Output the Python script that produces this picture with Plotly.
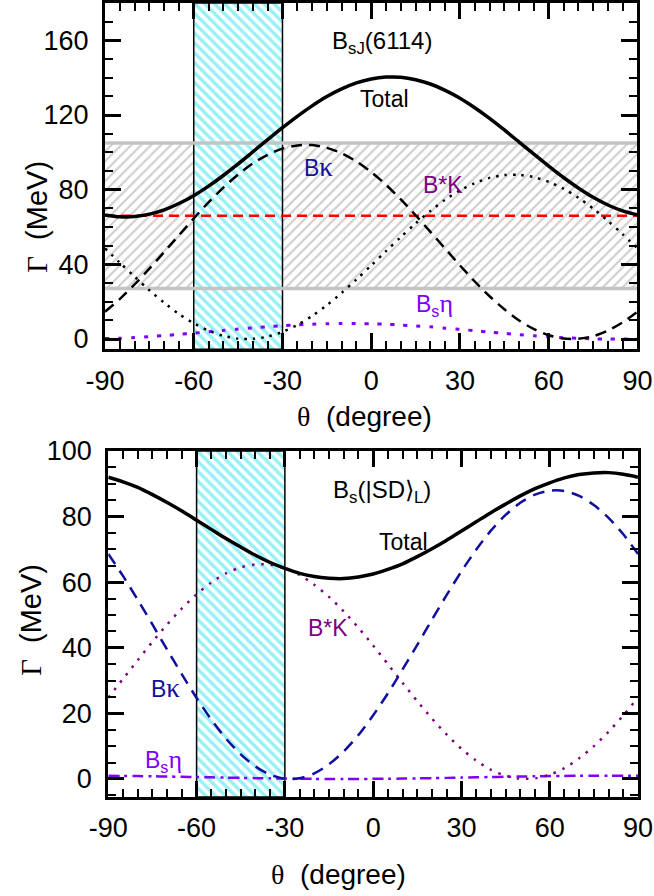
import plotly.graph_objects as go

# ---------------- data ----------------
theta = [-90, -85, -80, -75, -70, -65, -60, -55, -50, -45, -40, -35, -30, -25, -20, -15, -10, -5,
         0, 5, 10, 15, 20, 25, 30, 35, 40, 45, 50, 55, 60, 65, 70, 75, 80, 85, 90]

# upper panel: B_sJ(6114)
top_total = [66.5, 65.5, 65.6, 66.9, 69.2, 72.6, 76.8, 81.9, 87.6, 93.8, 100.3, 106.8, 113.2, 119.3,
             124.9, 129.9, 134.0, 137.2, 139.3, 140.3, 140.2, 138.9, 136.6, 133.2, 129.0, 123.9,
             118.2, 112.0, 105.5, 99.0, 92.6, 86.5, 80.9, 75.9, 71.8, 68.6, 66.5]
top_bk = [14.6, 21.4, 29.2, 37.7, 46.6, 55.6, 64.6, 73.2, 81.1, 88.1, 94.1, 98.7, 102.0, 103.7,
          103.9, 102.4, 99.5, 95.1, 89.4, 82.6, 74.8, 66.3, 57.4, 48.4, 39.4, 30.8, 22.9, 15.9,
          9.9, 5.3, 2.0, 0.3, 0.1, 1.5, 4.5, 8.9, 14.6]
top_bstark = [48.6, 40.9, 33.4, 26.1, 19.4, 13.4, 8.4, 4.5, 1.7, 0.2, 0.1, 1.3, 3.8, 7.5, 12.3,
              18.1, 24.7, 31.9, 39.4, 47.1, 54.6, 61.9, 68.6, 74.6, 79.6, 83.5, 86.3, 87.8, 87.9,
              86.7, 84.2, 80.5, 75.7, 69.9, 63.3, 56.1, 48.6]
top_bseta = [0.2, 0.4, 0.8, 1.3, 1.8, 2.5, 3.1, 3.9, 4.6, 5.3, 6.0, 6.6, 7.1, 7.6, 7.9, 8.2, 8.3,
             8.3, 8.1, 7.9, 7.5, 7.0, 6.5, 5.8, 5.2, 4.4, 3.7, 3.0, 2.3, 1.7, 1.2, 0.7, 0.4, 0.1,
             0.0, 0.0, 0.2]
top_exp_width = 66.0          # red dashed line
top_exp_low = 27.0            # grey hatched band
top_exp_high = 105.0

# lower panel: B_s(|SD>_L)
bot_total = [92.0, 90.6, 88.9, 86.7, 84.3, 81.7, 78.9, 76.1, 73.3, 70.7, 68.2, 66.0, 64.2, 62.7,
             61.7, 61.2, 61.1, 61.6, 62.5, 63.9, 65.6, 67.8, 70.2, 72.8, 75.6, 78.4, 81.2, 83.8,
             86.3, 88.5, 90.3, 91.8, 92.8, 93.3, 93.4, 92.9, 92.0]
bot_bk = [68.6, 61.9, 54.6, 47.1, 39.4, 31.9, 24.7, 18.1, 12.3, 7.5, 3.8, 1.3, 0.1, 0.2, 1.7, 4.5,
          8.4, 13.4, 19.4, 26.1, 33.4, 40.9, 48.6, 56.1, 63.3, 69.9, 75.7, 80.5, 84.2, 86.7, 87.9,
          87.8, 86.3, 83.5, 79.6, 74.6, 68.6]
bot_bstark = [24.8, 30.5, 36.2, 41.8, 47.1, 52.0, 56.3, 59.9, 62.7, 64.5, 65.4, 65.3, 64.2, 62.2,
              59.2, 55.5, 51.1, 46.1, 40.7, 35.0, 29.3, 23.7, 18.4, 13.5, 9.2, 5.6, 2.8, 1.0, 0.1,
              0.2, 1.3, 3.3, 6.3, 10.0, 14.4, 19.4, 24.8]
bot_bseta = [0.97, 0.93, 0.88, 0.82, 0.75, 0.67, 0.59, 0.50, 0.41, 0.33, 0.25, 0.18, 0.12, 0.07,
             0.03, 0.01, 0.0, 0.01, 0.03, 0.07, 0.12, 0.18, 0.25, 0.33, 0.41, 0.50, 0.59, 0.67,
             0.75, 0.82, 0.88, 0.93, 0.97, 0.99, 1.0, 0.99, 0.97]

# mixing-angle band (cyan)
mix_low = -60
mix_high = -30

x_range = [-90, 90]
top_y_range = [-5.5, 180]
bot_y_range = [-5.5, 100]
x_ticks = [-90, -60, -30, 0, 30, 60, 90]
top_y_ticks = [0, 40, 80, 120, 160]
bot_y_ticks = [0, 20, 40, 60, 80, 100]

# ---------------- style ----------------
SANS = "Liberation Sans, Arial, sans-serif"
NAVY = "#10109c"
PURPLE = "#800080"
VIOLET = "#8000ff"
CYAN = "#2ee4ee"


def serif(s, size=None):
    st = "font-family:Liberation Serif"
    if size:
        st += ";font-size:%dpx" % size
    return "<span style='" + st + "'>" + s + "</span>"


fig = go.Figure()


def curve(x, y, color, width, dash, xa, ya):
    fig.add_trace(go.Scatter(x=x, y=y, mode="lines", xaxis=xa, yaxis=ya,
                             line=dict(color=color, width=width, dash=dash, shape="spline",
                                       smoothing=0.8),
                             hoverinfo="skip", showlegend=False))


def band(x0, x1, y0, y1, fg, shape, size, solidity, xa, ya, linecolor=None, linewidth=0):
    fig.add_trace(go.Scatter(x=[x0, x1, x1, x0, x0], y=[y0, y0, y1, y1, y0], mode="lines",
                             fill="toself", fillcolor="white",
                             fillpattern=dict(shape=shape, fgcolor=fg, bgcolor="white",
                                              size=size, solidity=solidity),
                             line=dict(color=linecolor or "rgba(0,0,0,0)", width=linewidth),
                             xaxis=xa, yaxis=ya, hoverinfo="skip", showlegend=False))


def hline(yv, color, width, dash, xa, ya):
    fig.add_trace(go.Scatter(x=x_range, y=[yv, yv], mode="lines", xaxis=xa, yaxis=ya,
                             line=dict(color=color, width=width, dash=dash),
                             hoverinfo="skip", showlegend=False))


# ---- top panel ----
band(x_range[0], x_range[1], top_exp_low, top_exp_high, "#9c9c9c", "/", 7, 0.3, "x", "y")
band(mix_low, mix_high, top_y_range[0], top_y_range[1], CYAN, "\\", 7, 0.48, "x", "y",
     linecolor="black", linewidth=1.5)
hline(top_exp_high, "#c4c4c4", 3.5, "solid", "x", "y")
hline(top_exp_low, "#c4c4c4", 3.5, "solid", "x", "y")
hline(top_exp_width, "#ff0000", 2.5, "10px,6px", "x", "y")
curve(theta, top_bseta, VIOLET, 3, "4px,9px", "x", "y")
curve(theta, top_bstark, "black", 2.5, "2.5px,6px", "x", "y")
curve(theta, top_bk, "black", 2.5, "11px,7px", "x", "y")
curve(theta, top_total, "black", 3.5, "solid", "x", "y")

# ---- bottom panel ----
band(mix_low, mix_high, bot_y_range[0], bot_y_range[1], CYAN, "\\", 7, 0.48, "x2", "y2",
     linecolor="black", linewidth=1.5)
curve(theta, bot_bseta, VIOLET, 2.5, "11px,5px,3px,5px", "x2", "y2")
curve(theta, bot_bstark, PURPLE, 2.5, "2.5px,7px", "x2", "y2")
curve(theta, bot_bk, NAVY, 2.5, "12px,8px", "x2", "y2")
curve(theta, bot_total, "black", 3.5, "solid", "x2", "y2")

# ---------------- axes ----------------
tickfont = dict(family=SANS, size=27, color="black")


def xaxis(domain, anchor):
    return dict(domain=domain, anchor=anchor, range=x_range, tickmode="array", tickvals=x_ticks,
                ticktext=[str(v) for v in x_ticks], ticks="inside", ticklen=16, tickwidth=2.5,
                tickcolor="black", showline=True, linewidth=3, linecolor="black",
                mirror="allticks", showgrid=False, zeroline=False, tickfont=tickfont,
                ticklabelstandoff=5, automargin=False,
                minor=dict(ticks="inside", ticklen=8, tickwidth=2, tickcolor="black", dtick=5,
                           tick0=0, showgrid=False))


def yaxis(domain, anchor, rng, tickv, minor_dt):
    return dict(domain=domain, anchor=anchor, range=rng, tickmode="array", tickvals=tickv,
                ticktext=[str(v) for v in tickv], ticks="inside", ticklen=16, tickwidth=2.5,
                tickcolor="black", showline=True, linewidth=3, linecolor="black",
                mirror="allticks", showgrid=False, zeroline=False, tickfont=tickfont,
                ticklabelstandoff=8, automargin=False,
                minor=dict(ticks="inside", ticklen=8, tickwidth=2, tickcolor="black",
                           dtick=minor_dt, tick0=0, showgrid=False))


fig.update_layout(
    width=654, height=896,
    margin=dict(l=105, r=16, t=3, b=99, autoexpand=False),
    plot_bgcolor="white", paper_bgcolor="white",
    showlegend=False,
    xaxis=xaxis([0, 0.999], "y"),
    yaxis=yaxis([0.5639, 1], "x", top_y_range, top_y_ticks, 10),
    xaxis2=xaxis([0.0062, 1], "y2"),
    yaxis2=yaxis([0, 0.4358], "x2", bot_y_range, bot_y_ticks, 5),
)

# ---------------- text ----------------
ann = []


def label(text, x, y, color, xa, ya, size=23):
    ann.append(dict(text=text, x=x, y=y, xref=xa, yref=ya, showarrow=False,
                    xanchor="center", yanchor="middle",
                    font=dict(family=SANS, size=size, color=color)))


label("B<sub>sJ</sub>(6114)", 3.7, 159, "black", "x", "y", 24)
label("Total", 4.4, 128.4, "black", "x", "y")
label("B" + serif("κ", 27), -17.8, 92.3, NAVY, "x", "y")
label("B*K", 24.4, 82.5, PURPLE, "x", "y")
label("B<sub>s</sub>" + serif("η", 26), 21.4, 18.5, VIOLET, "x", "y")

label("B<sub>s</sub>(|SD⟩<sub>L</sub>)", 3.1, 87.5, "black", "x2", "y2", 24)
label("Total", 10.2, 72.1, "black", "x2", "y2")
label("B*K", -15.2, 46.1, PURPLE, "x2", "y2")
label("B" + serif("κ", 27), -70.6, 27.7, NAVY, "x2", "y2")
label("B<sub>s</sub>" + serif("η", 26), -71.1, 5.5, VIOLET, "x2", "y2")

ytitle = serif("Γ") + "  (MeV)"
xtitle = serif("θ") + "  (degree)"
for (txt, x, y, ang, fs) in [(ytitle, -0.128, 0.7305, -90, 29), (ytitle, -0.139, 0.223, -90, 29),
                              (xtitle, 0.4878, 0.4786, 0, 28), (xtitle, 0.439, -0.0982, 0, 28)]:
    ann.append(dict(text=txt, x=x, y=y, xref="paper", yref="paper", showarrow=False,
                    xanchor="center", yanchor="middle", textangle=ang,
                    font=dict(family=SANS, size=fs, color="black")))

fig.update_layout(annotations=ann)
fig.write_html("out.html", config={"displayModeBar": False},
               post_script="document.body.style.margin='0';document.body.style.overflow='hidden';")
